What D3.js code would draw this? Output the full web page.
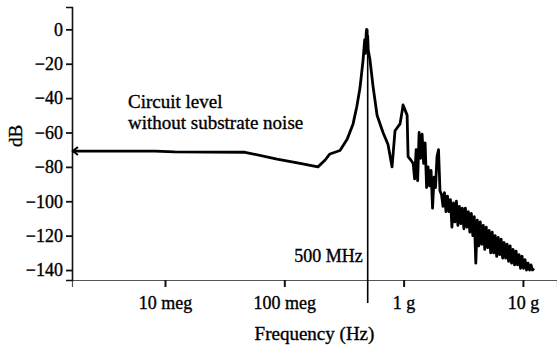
<!DOCTYPE html>
<html><head><meta charset="utf-8">
<script src="https://cdn.jsdelivr.net/npm/d3@7"></script>
<style>
html,body{margin:0;padding:0;background:#fff;}
svg{display:block;font-family:"Liberation Serif","Times New Roman",serif;}
svg text{stroke:#000;stroke-width:0.35px;fill:#000;}
</style></head>
<body><svg id="c" width="557" height="347"></svg>
<script>
// frequency (Hz) and magnitude (dB)
const freqHz = [
  1.66e6, 8.25e6, 1.2e7, 4.69e7, 8.69e7, 1.355e8, 1.915e8, 2.2e8, 2.41e8, 2.93e8,
  3.36e8, 3.77e8, 4.05e8, 4.31e8, 4.57e8, 4.72e8, 4.8e8, 4.85e8, 4.9e8, 4.95e8,
  5.0e8, 5.05e8, 5.23e8,
  5.54e8, 5.99e8, 6.72e8, 7.40e8, 8.0e8, 8.47e8, 9.33e8, 9.7e8, 9.89e8, 1.03e9,
  1.07e9, 1.09e9, 1.15e9,
  1.202e9, 1.237e9, 1.274e9, 1.311e9, 1.349e9, 1.389e9, 1.429e9, 1.471e9, 1.514e9, 1.558e9,
  1.603e9, 1.650e9, 1.698e9, 1.748e9, 1.799e9, 1.851e9, 1.905e9, 1.961e9, 2.018e9, 2.077e9,
  2.138e9, 2.200e9, 2.265e9, 2.331e9, 2.399e9, 2.469e9, 2.541e9, 2.615e9, 2.692e9, 2.770e9,
  2.851e9, 2.934e9, 3.020e9, 3.108e9, 3.199e9, 3.293e9, 3.388e9, 3.488e9, 3.589e9, 3.694e9,
  3.802e9, 3.913e9, 4.027e9, 4.145e9, 4.266e9, 4.390e9, 4.519e9, 4.651e9, 4.786e9, 4.926e9,
  5.070e9, 5.218e9, 5.370e9, 5.527e9, 5.689e9, 5.855e9, 6.026e9, 6.202e9, 6.383e9, 6.569e9,
  6.761e9, 6.958e9, 7.161e9, 7.370e9, 7.586e9, 7.807e9, 8.035e9, 8.270e9, 8.511e9, 8.760e9,
  9.016e9, 9.279e9, 9.550e9, 9.829e9, 1.0116e10, 1.041e10, 1.072e10, 1.103e10, 1.135e10, 1.168e10,
  1.202e10, 1.237e10
];
const magDb = [
  -70.8, -70.8, -71.3, -71.5, -75.5, -78, -80, -76, -72.5, -70.5,
  -64, -55, -45, -34, -18, -6, -14, -3, 0, -13,
  -4, -12, -18,
  -33, -50, -60, -67, -80, -59, -55, -48, -44, -47,
  -50, -74, -76,
  -78, -87, -70, -88, -60, -75, -61, -78, -66, -92,
  -80, -91, -82, -104, -86, -92, -74, -70, -94, -96,
  -103, -95, -106, -97, -106, -99, -115, -101, -112, -100,
  -114, -103, -113, -104, -116, -104, -115, -106, -118, -107,
  -120, -109, -136, -111, -126, -112, -125, -114, -128, -115,
  -127, -117, -130, -118, -130, -120, -132, -121, -131, -122,
  -133, -124, -133, -125, -135, -126, -136, -128, -137, -129,
  -137, -131, -139, -132, -139, -134, -140, -136, -140, -137,
  -140, -139
];
const yTicks = [0, -20, -40, -60, -80, -100, -120, -140];
const xTicks = [1e7, 1e8, 1e9, 1e10];
const xTickLabels = ["10 meg", "100 meg", "1 g", "10 g"];
const markerFreq = 5e8;
const markerLabel = "500 MHz";
const noteLines = ["Circuit level", "without substrate noise"];
const xTitle = "Frequency (Hz)";
const yTitle = "dB";

const svg = d3.select("#c");
const L = 72, R = 557, T = 7, B = 280;
const x = d3.scaleLog().domain([1.662e6, 1.93e10]).range([L, R]);
const y = d3.scaleLinear().domain([-145.8, 13]).range([B, T]);

// x axis
const gx = svg.append("g").attr("transform", `translate(0,${B})`)
  .call(d3.axisBottom(x).tickValues(xTicks).tickSize(7).tickPadding(9)
    .tickFormat((d, i) => xTickLabels[i]));
gx.attr("font-family", null);
gx.select(".domain").attr("stroke", "#555").attr("stroke-width", 1.2);
gx.selectAll(".tick line").attr("stroke", "#111").attr("stroke-width", 2);
gx.selectAll(".tick text").attr("font-size", 18);

// y axis
const gy = svg.append("g").attr("transform", `translate(${L},0)`)
  .call(d3.axisLeft(y).tickValues(yTicks).tickSize(6).tickPadding(3));
gy.attr("font-family", null);
gy.select(".domain").attr("stroke", "#111").attr("stroke-width", 1.6);
gy.selectAll(".tick line").attr("stroke", "#111").attr("stroke-width", 1.8);
gy.selectAll(".tick text").attr("font-size", 18);

// titles
svg.append("text").attr("x", (L + R) / 2).attr("y", 340)
  .attr("text-anchor", "middle").attr("font-size", 19).text(xTitle);
svg.append("text").attr("transform", "translate(22,136) rotate(-90)")
  .attr("text-anchor", "middle").attr("font-size", 19).text(yTitle);

// marker line at 500 MHz
svg.append("line").attr("x1", x(markerFreq)).attr("x2", x(markerFreq))
  .attr("y1", y(0)).attr("y2", B + 23)
  .attr("stroke", "#000").attr("stroke-width", 1.6);
svg.append("text").attr("x", x(markerFreq) - 5).attr("y", 262)
  .attr("text-anchor", "end").attr("font-size", 18).text(markerLabel);

// curve
const pts = freqHz.map((f, i) => [f, magDb[i]]);
svg.append("path").datum(pts)
  .attr("fill", "none").attr("stroke", "#000").attr("stroke-width", 2.8)
  .attr("stroke-linejoin", "round")
  .attr("d", d3.line().x(d => x(d[0])).y(d => y(d[1])));

// arrowhead at left end
const ax = x(freqHz[0]), ay = y(magDb[0]);
svg.append("path")
  .attr("d", `M${ax + 6},${ay - 4} L${ax + 1},${ay} L${ax + 6},${ay + 4}`)
  .attr("fill", "none").attr("stroke", "#000").attr("stroke-width", 2);

// annotation
svg.append("text").attr("x", 128).attr("y", 108).attr("font-size", 19).text(noteLines[0]);
svg.append("text").attr("x", 128).attr("y", 129).attr("font-size", 19).text(noteLines[1]);
</script></body></html>
